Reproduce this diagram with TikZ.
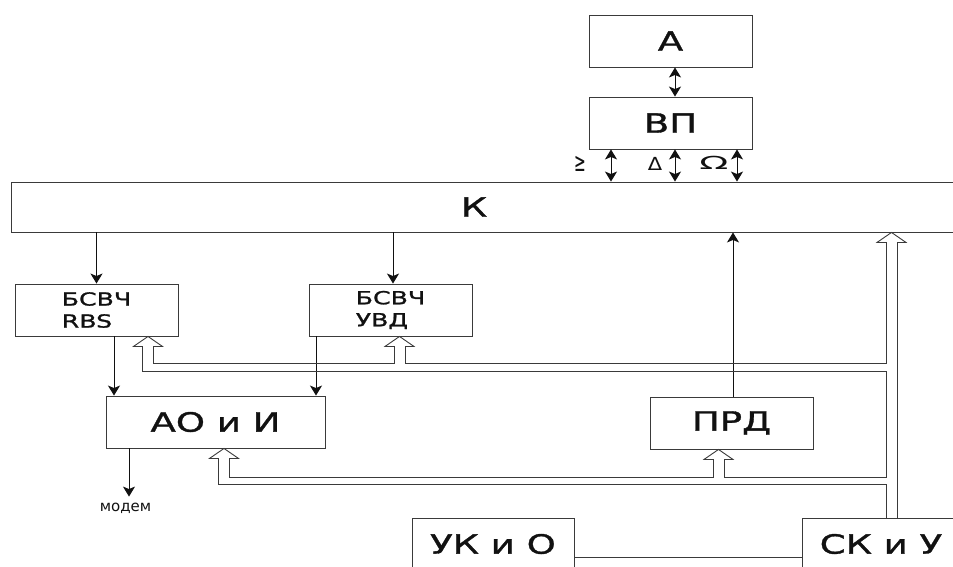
\documentclass[tikz,border=0pt]{standalone}
\usepackage{fontspec}
\usepackage{graphicx}
\setmainfont{DejaVu Sans}[FakeStretch=1.4, FakeBold=1.2]
\newfontfamily\plainfont{DejaVu Sans}
\usetikzlibrary{arrows.meta,calc}
\definecolor{ink}{HTML}{111111}
\definecolor{frame}{HTML}{3A3A3A}

\begin{document}
\begin{tikzpicture}[
  x=1pt, y=-1pt,
  >={Stealth[length=10pt,width=12pt,inset=2.5pt]},
  lbl/.style={font=\fontsize{26.5}{30}\selectfont, text=ink},
  box/.style={lbl, draw=frame, line width=0.9pt, fill=white, inner sep=0pt, minimum width=163pt, minimum height=52pt},
  twoline/.style={font=\fontsize{18}{22}\selectfont, align=left},
  sym/.style={font=\plainfont\fontsize{20}{22}\selectfont, text=ink, inner sep=0pt},
  arr/.style={->, line width=1pt, draw=ink},
  dbl/.style={<->, line width=1pt, draw=ink},
  bus/.style={line width=0.9pt, draw=frame},
  bushead/.pic={
    \draw[bus] (-5.5,10) -- (-14.5,10) -- (0,0) -- (14.5,10) -- (5.5,10);
    \coordinate (-l) at (-5.5,10);
    \coordinate (-r) at (5.5,10);
  }
]
\useasboundingbox (0,0) rectangle (953,566);
\clip (0,0) rectangle (953,566);

% ---------- Blocks ----------
\node[box] (a) at (670.5,41) {А};
\node[box] (vp) at (670.5,123) {ВП};
\node[box, minimum width=949pt, minimum height=50pt] (k) at (485.5,207) {};
\node[lbl] at ($(k.center)+(-11.5,0)$) {К};
\node[box, twoline] (rbs) at (96.5,310) {БСВЧ\\RBS};
\node[box, twoline] (uvd) at (390.5,310) {БСВЧ\\УВД};
\node[box, minimum width=219pt] (aoi) at (215.5,422) {АО и И};
\node[box] (prd) at (731.5,423) {ПРД};
\node[box, minimum width=162pt] (ukio) at (493,544) {УК и О};
\node[box, minimum width=158pt] (skiu) at (881,544) {СК и У};
\node[font=\plainfont\fontsize{15}{18}\selectfont, text=ink, inner sep=0pt] (modem) at (125.5,508) {модем};

% ---------- Channel marks ----------
\node[sym] (sig) at (580,164) {\scalebox{0.7}[1.3]{≥}};
\node[sym] (del) at (655,164) {\scalebox{1.05}[0.9]{Δ}};
\node[sym] (om) at (714,163) {\scalebox{1.9}[0.9]{Ω}};

% ---------- Signal arrows ----------
\draw[dbl] ($(a.south)+(4.5,0)$) -- ($(vp.north)+(4.5,0)$);
\foreach \dx [count=\i] in {-59.5,4.5,66.5} {
  \coordinate (t\i) at ($(vp.south)+(\dx,0)$);
  \draw[dbl] (t\i) -- (t\i |- k.north);
}
\draw[arr] (k.south -| rbs.north) -- (rbs.north);
\draw[arr] ($(k.south -| uvd.north)+(2.5,0)$) -- ($(uvd.north)+(2.5,0)$);
\coordinate (r1) at ($(rbs.south)+(17.5,0)$);
\draw[arr] (r1) -- (r1 |- aoi.north);
\coordinate (u1) at ($(uvd.south)+(-74.5,0)$);
\draw[arr] (u1) -- (u1 |- aoi.north);
\coordinate (m1) at ($(aoi.south)+(-86.5,0)$);
\draw[arr, shorten >=6pt] (m1) -- (m1 |- modem.north);
\draw[arr] ($(prd.north)+(1.5,0)$) -- ($(prd.north |- k.south)+(1.5,0)$);

% ---------- Control buses ----------
\pic (hr) at ($(rbs.south)+(51.5,0)$) {bushead};
\pic (hu) at ($(uvd.south)+(9,0)$) {bushead};
\pic (ha) at ($(aoi.south)+(8.5,0)$) {bushead};
\pic (hp) at ($(prd.south)+(-13,0)$) {bushead};
\pic (hk) at ($(k.south)+(406,0)$) {bushead};
\coordinate (busA) at (0,363);
\coordinate (busB) at (0,371);
\coordinate (busC) at (0,477);
\coordinate (busD) at (0,484);

\draw[bus] (hr-l) |- (hk-l |- busB) |- (hp-r |- busC) -- (hp-r);
\draw[bus] (hr-r) |- (hu-l |- busA) -- (hu-l);
\draw[bus] (hu-r) |- (hk-l |- busA) -- (hk-l);
\draw[bus] (hk-r) -- (hk-r |- skiu.north);
\draw[bus] (ha-l) |- (hk-l |- busD) -- (hk-l |- skiu.north);
\draw[bus] (hp-l) |- (ha-r |- busC) -- (ha-r);
\draw[bus] ($(ukio.east)+(0,13)$) -- ($(skiu.west)+(0,13)$);

\end{tikzpicture}
\end{document}
